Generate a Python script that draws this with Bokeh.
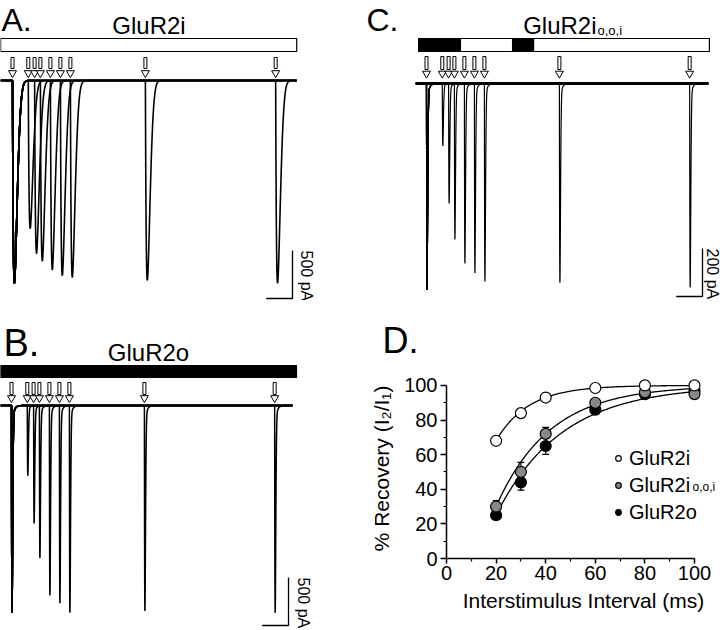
import numpy as np
from bokeh.plotting import figure
from bokeh.layouts import row, column
from bokeh.models import (Label, Range1d, Legend, LegendItem, Whisker, ColumnDataSource,
                          TeeHead, FixedTicker)
from bokeh.embed import file_html
from bokeh.resources import INLINE

FONT = "Liberation Sans"

# ---------------- data: current traces (ms after 1st stimulus, pA) ----------------
isi_ms = [60, 84, 106, 144, 182, 220, 505, 1000]          # second-pulse intervals
a_first_pA = 2110                                          # A. GluR2i
a_second_pA = [1540, 1800, 1880, 1970, 2030, 2050, 2080, 2110]
b_first_pA = 2160                                          # B. GluR2o
b_second_pA = [730, 1230, 1590, 1980, 2060, 2160, 2140, 2160]
c_first_pA = 860                                           # C. GluR2i o,o,i
c_second_pA = [260, 500, 650, 750, 790, 825, 830, 850]

a_sweep = (-45, 1080)
b_sweep = (-42, 1068)
c_sweep = (-42, 1072)
a_bar = (-45, 1080)                 # white bar (GluR2i)
b_bar = (-42, 1083)                 # black bar (GluR2o)
c_bar = (-30, 1075)                 # white bar with black segments
c_bar_black = [(-30, 129), (327, 407)]

scale_pA = [500, 500, 200]
scale_ms = 100

# ---------------- data: recovery (panel D) ----------------
isi_D = [20, 30, 40, 60, 80, 100]
rec_i = [68, 84, 93, 98.5, 100, 100]
rec_ooi = [30, 50, 72, 90, 96, 95]
rec_o = [25, 44, 65, 86, 95, 97]
sem_ooi = [3.5, 5.5, 3.8, 1.5, 1.0, 1.0]
sem_o = [2.0, 4.5, 4.8, 1.5, 1.0, 1.0]
fit_tau = [13.2, 21.8, 26.3]        # GluR2i, GluR2i o,o,i, GluR2o
fit_t0 = [4.9, 12.2, 12.4]
x_ticks = [0, 20, 40, 60, 80, 100]
x_minor = [10, 30, 50, 70, 90]
y_ticks = [0, 20, 40, 60, 80, 100]
y_minor = [10, 30, 50, 70, 90]

# ---------------- layout constants ----------------
W = 360
H1, H2 = 300, 330
TEXT_DY = 8   # compensation for label baseline placement


def no_align(p):
    if "frame_align" in p.properties():
        p.frame_align = False


def pulse_shape(tr, td, pw, a, tt):
    def f(t):
        t = np.asarray(t, float)
        tp = np.clip(t, 0, None)
        g = (1 - np.exp(-tp / tr)) * ((1 - a) * np.exp(-(tp / td) ** pw) + a * np.exp(-tp / tt))
        return np.where(t > 0, g, 0.0)
    grid = np.linspace(0, 300, 30001)
    m = f(grid).max()
    return lambda t: f(t) / m


def sweep_times(t0, t1, stims, win):
    parts = [np.arange(t0, t1, 2.0), np.array([t1])]
    for s in stims:
        parts.append(np.arange(s - 1, s + win, 0.2))
    t = np.unique(np.concatenate(parts))
    return t[(t >= t0) & (t <= t1)]


def trace_fig(height, xr, yr):
    p = figure(width=W, height=height, x_range=Range1d(*xr), y_range=Range1d(*yr),
               x_axis_type=None, y_axis_type=None, toolbar_location=None,
               output_backend="svg", min_border=0)
    p.outline_line_color = None
    p.background_fill_color = "white"
    no_align(p)
    return p


def add_label(p, x, y, text, size, align="left", angle=0.0):
    p.add_layout(Label(x=x, y=y, text=text, text_font=FONT, text_font_size=f"{size}px",
                       text_align=align, text_baseline="alphabetic", angle=angle,
                       text_color="black"))


def draw_panel(p, dx, dy, first, seconds, sweep, shape, lw, bar, bar_color, blacks,
               bar_ref, arrow_ref, sb_corner, sb_pA, sb_text_ref, sb_text):
    stims = [0] + isi_ms
    btop, bbot = bar_ref
    # application bar
    p.quad(left=[bar[0]], right=[bar[1]], bottom=[dy(bbot)], top=[dy(btop)],
           fill_color=bar_color, line_color="black", line_width=1.2)
    for b0, b1 in blacks:
        p.quad(left=[b0], right=[b1], bottom=[dy(bbot)], top=[dy(btop)],
               fill_color="black", line_color="black", line_width=1.2)
    # stimulus arrows
    top, headtop, tip = arrow_ref
    p.rect(x=stims, y=[(dy(top) + dy(headtop + 1)) / 2] * len(stims), width=3,
           height=[dy(top) - dy(headtop + 1)] * len(stims), width_units="screen",
           fill_color="white", line_color="black", line_width=1.0)
    p.scatter(x=stims, y=[dy((headtop + tip) / 2 + 0.5)] * len(stims), marker="inverted_triangle",
              size=8, fill_color="white", line_color="black", line_width=1.0)
    # traces (one sweep per interval, first pulse superimposed)
    xs, ys = [], []
    for isi, a2 in zip(isi_ms, seconds):
        t = sweep_times(sweep[0], sweep[1], [0, isi], 90)
        y = -first * shape(t) - a2 * shape(t - isi)
        xs.append(list(t))
        ys.append(list(y))
    p.multi_line(xs=xs, ys=ys, line_color="black", line_width=lw)
    # scale bar
    cx, cy = sb_corner
    x_c, y_c = dx(cx), dy(cy)
    p.line(x=[x_c - scale_ms, x_c, x_c], y=[y_c, y_c, y_c + sb_pA], line_color="black", line_width=1.3)
    add_label(p, dx(sb_text_ref[0] + TEXT_DY), dy(sb_text_ref[1]), sb_text, 16, "left", -np.pi / 2)


shape_slow = pulse_shape(3.0, 21.0, 2.0, 0.0, 10.0)
shape_fast = pulse_shape(1.2, 4.5, 2.0, 0.07, 7.0)

# ---------------- Panel A ----------------
dxA = lambda r: (r - 12) * 3.8
dyA = lambda r: (80 - r) * 10.42
pA = trace_fig(H1, (dxA(0), dxA(360)), (dyA(300), dyA(0)))
draw_panel(pA, dxA, dyA, a_first_pA, a_second_pA, a_sweep, shape_slow, 1.6, a_bar, "white", [],
           (38, 51), (57, 67, 77), (292, 298), scale_pA[0], (297.5, 250), "500 pA")
add_label(pA, dxA(1), dyA(27 - TEXT_DY), "A.", 32)
add_label(pA, dxA(148.5), dyA(33 - TEXT_DY), "GluR2i", 24, "center")

# ---------------- Panel B ----------------
dxB = lambda r: (r - 11) * 3.8
dyB = lambda r: (405 - r) * 10.42
pB = trace_fig(H2, (dxB(0), dxB(360)), (dyB(630), dyB(300)))
draw_panel(pB, dxB, dyB, b_first_pA, b_second_pA, b_sweep, shape_fast, 1.5, b_bar, "black", [],
           (365, 377), (382, 393, 401), (288, 625), scale_pA[1], (294.5, 577), "500 pA")
add_label(pB, dxB(3), dyB(350 - TEXT_DY), "B.", 38)
add_label(pB, dxB(148), dyB(360 - TEXT_DY), "GluR2o", 24, "center")

# ---------------- Panel C ----------------
dxC = lambda r: (r - 426) * 3.8
dyC = lambda r: (83 - r) * 4.167
pC = trace_fig(H1, (dxC(360), dxC(720)), (dyC(300), dyC(0)))
pC.line(x=list(c_sweep), y=[0, 0], line_color="black", line_width=3.0)
draw_panel(pC, dxC, dyC, c_first_pA, c_second_pA, c_sweep, shape_fast, 1.2, c_bar, "white",
           c_bar_black, (38, 51), (56, 68, 77), (702, 296), scale_pA[2], (704, 248), "200 pA")
add_label(pC, dxC(366), dyC(27 - TEXT_DY), "C.", 32)
add_label(pC, dxC(596), dyC(33 - TEXT_DY), "GluR2i", 24, "right")
add_label(pC, dxC(597), dyC(38 - TEXT_DY), "o,o,i", 13, "left")

# ---------------- Panel D ----------------
BL, BR, BT, BB = 86, 0, 78, 72
XMAX = (720 - 446) / 2.48
pD = figure(width=W, height=H2, x_range=Range1d(0, XMAX), y_range=Range1d(0, 104),
            toolbar_location=None, output_backend="svg", title="D.",
            min_border_left=BL, min_border_right=BR, min_border_top=BT, min_border_bottom=BB)
no_align(pD)
pD.outline_line_color = None
pD.grid.visible = False
pD.title.text_font = FONT
pD.title.text_font_size = "36px"
pD.title.text_font_style = "normal"
pD.title.text_color = "black"
pD.title.align = "left"
pD.title.vertical_align = "top"
pD.title.offset = 22 - BL
pD.title.standoff = 32
for ax in (pD.xaxis[0], pD.yaxis[0]):
    ax.bounds = (0, 100)
    ax.axis_line_width = 1.5
    ax.major_tick_line_width = 1.5
    ax.minor_tick_line_width = 1.2
    ax.major_tick_in = 0
    ax.minor_tick_in = 0
    ax.major_label_text_font = FONT
    ax.major_label_text_font_size = "20px"
    ax.axis_label_text_font = FONT
    ax.axis_label_text_font_size = "21px"
    ax.axis_label_text_font_style = "normal"
    ax.major_label_text_color = "black"
    ax.axis_label_text_color = "black"
pD.xaxis.ticker = FixedTicker(ticks=x_ticks, minor_ticks=x_minor)
pD.yaxis.ticker = FixedTicker(ticks=y_ticks, minor_ticks=y_minor)
pD.xaxis.major_tick_out = 5
pD.xaxis.minor_tick_out = 3
pD.yaxis.major_tick_out = 6
pD.yaxis.minor_tick_out = 3
pD.xaxis.major_label_standoff = 2
pD.yaxis.major_label_standoff = 3
pD.xaxis.axis_label = "Interstimulus Interval (ms)"
pD.yaxis.axis_label = "% Recovery (I\u2082/I\u2081)"
pD.xaxis.axis_label_standoff = 6
pD.yaxis.axis_label_standoff = 8

xf = np.linspace(20, 100, 161)
for tau, t0 in zip(fit_tau, fit_t0):
    pD.line(x=xf, y=100 * (1 - np.exp(-(xf - t0) / tau)), line_color="black", line_width=1.3)

src_ooi = ColumnDataSource(dict(x=isi_D, lo=rec_ooi, hi=[v + s for v, s in zip(rec_ooi, sem_ooi)]))
src_o = ColumnDataSource(dict(x=isi_D, lo=[v - s for v, s in zip(rec_o, sem_o)], hi=rec_o))
pD.add_layout(Whisker(base="x", lower="lo", upper="hi", source=src_ooi, line_width=1.2,
                      upper_head=TeeHead(size=7, line_width=1.2), lower_head=None))
pD.add_layout(Whisker(base="x", lower="lo", upper="hi", source=src_o, line_width=1.2,
                      lower_head=TeeHead(size=7, line_width=1.2), upper_head=None))

r_o = pD.scatter(x=isi_D, y=rec_o, size=11, marker="circle", fill_color="black",
                 line_color="black", line_width=1.2)
r_ooi = pD.scatter(x=isi_D, y=rec_ooi, size=11, marker="circle", fill_color="#888888",
                   line_color="black", line_width=1.2)
r_i = pD.scatter(x=isi_D, y=rec_i, size=11, marker="circle", fill_color="white",
                 line_color="black", line_width=1.2)

legend = Legend(items=[LegendItem(label="GluR2i", renderers=[r_i]),
                       LegendItem(label="GluR2i", renderers=[r_ooi]),
                       LegendItem(label="GluR2o", renderers=[r_o])],
                location=(165, 34), padding=0, margin=0, spacing=3,
                glyph_width=14, glyph_height=24, label_height=24, label_standoff=4,
                label_text_font=FONT, label_text_font_size="20px", label_text_color="black",
                border_line_color=None, background_fill_alpha=0)
pD.add_layout(legend)
pD.add_layout(Label(x=246, y=64 + TEXT_DY, x_units="screen", y_units="screen", text="o,o,i",
                    text_font=FONT, text_font_size="12px", text_baseline="alphabetic",
                    text_color="black"))

layout = column(row(pA, pC), row(pB, pD))
open("out.html", "w").write(file_html(layout, INLINE))
